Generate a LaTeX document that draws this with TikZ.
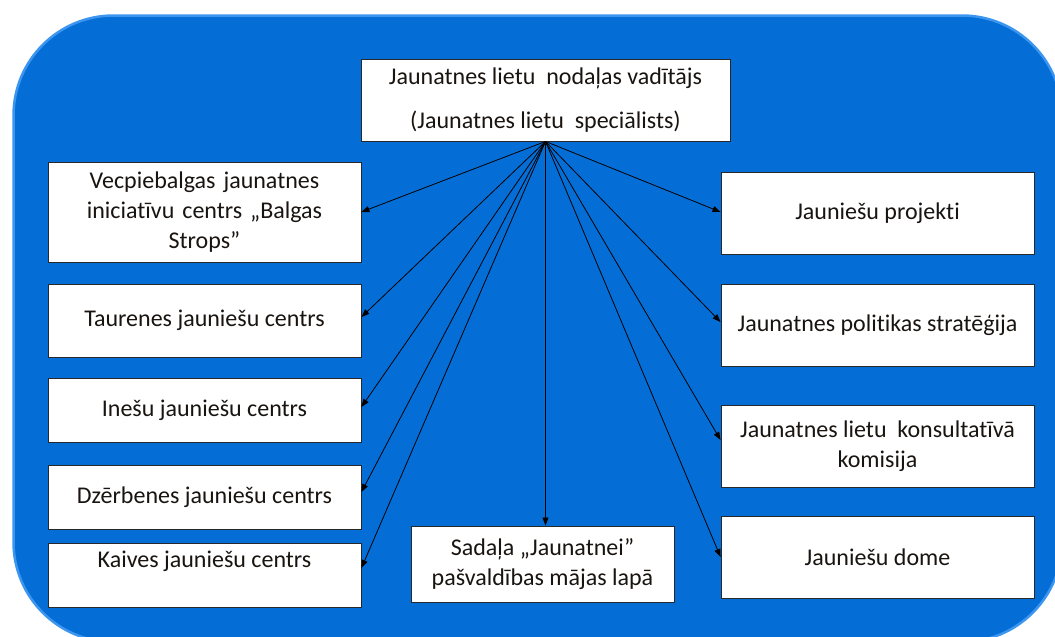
\documentclass[tikz,border=0pt]{standalone}
\usepackage{fontspec}
\setmainfont[Ligatures={NoCommon}]{Carlito}
\usetikzlibrary{arrows.meta}
\definecolor{bgblue}{RGB}{5,110,214}
\definecolor{edgeblue}{RGB}{60,150,240}
\definecolor{boxline}{RGB}{40,40,40}
\definecolor{txtcol}{RGB}{25,20,15}
\tikzset{
  box/.style={draw=boxline, fill=white, line width=0.9pt, align=center, inner sep=2pt,
    font=\fontsize{24}{30}\selectfont, text=txtcol},
  lbox/.style={box, minimum width=313pt},
  conn/.style={draw=black, line width=0.8pt, -{Triangle[length=8pt,width=6pt]}}
}
\begin{document}
\begin{tikzpicture}[x=1pt,y=-1pt]
\useasboundingbox (0,0) rectangle (1055,637);
\begin{scope}
\clip (0,0) rectangle (1055,637);
\fill[bgblue, draw=edgeblue, line width=2.5pt, rounded corners=100pt] (13.5,15.5) rectangle (1062,642);
\end{scope}
% top
\node[box, minimum width=369pt, minimum height=82pt] (top) at (545.5,100)
  {Jaunatnes lietu~ nodaļas vadītājs\\[14pt](Jaunatnes lietu~ speciālists)};
% left column
\node[lbox, minimum height=100pt, text width=300pt] (l1) at (204.5,212)
  {Vecpiebalgas jaunatnes\\iniciatīvu centrs „Balgas\\Strops”};
\node[lbox, minimum height=73pt] (l2) at (204.5,320.5) {Taurenes jauniešu centrs};
\node[lbox, minimum height=64pt] (l3) at (204.5,410) {Inešu jauniešu centrs};
\node[lbox, minimum height=64pt] (l4) at (204.5,497) {Dzērbenes jauniešu centrs};
\node[lbox, minimum height=64pt, text height=16pt, text depth=31pt] (l5) at (204.5,575) {Kaives jauniešu centrs};
% middle
\node[box, minimum width=263pt, minimum height=76pt] (mid) at (542.5,564)
  {Sadaļa „Jaunatnei”\\pašvaldības mājas lapā};
% right column
\node[lbox, minimum height=82pt] (r1) at (877.5,213) {Jauniešu projekti};
\node[lbox, minimum height=82pt] (r2) at (877.5,325) {Jaunatnes politikas stratēģija};
\node[lbox, minimum height=82pt] (r3) at (877.5,446) {Jaunatnes lietu~ konsultatīvā\\komisija};
\node[lbox, minimum height=82pt] (r4) at (877.5,557) {Jauniešu dome};
% connectors
\draw[conn] (top.south) -- (l1.east);
\draw[conn] (top.south) -- ([yshift=3.5pt]l2.east);
\draw[conn] (top.south) -- ([yshift=3pt]l3.east);
\draw[conn] (top.south) -- ([yshift=5pt]l4.east);
\draw[conn] (top.south) -- ([yshift=7pt]l5.east);
\draw[conn] (top.south) -- (mid.north -| top.south);
\draw[conn] (top.south) -- ([yshift=1pt]r1.west);
\draw[conn] (top.south) -- ([yshift=3pt]r2.west);
\draw[conn] (top.south) -- ([yshift=6pt]r3.west);
\draw[conn] (top.south) -- (r4.west);
\end{tikzpicture}
\end{document}
